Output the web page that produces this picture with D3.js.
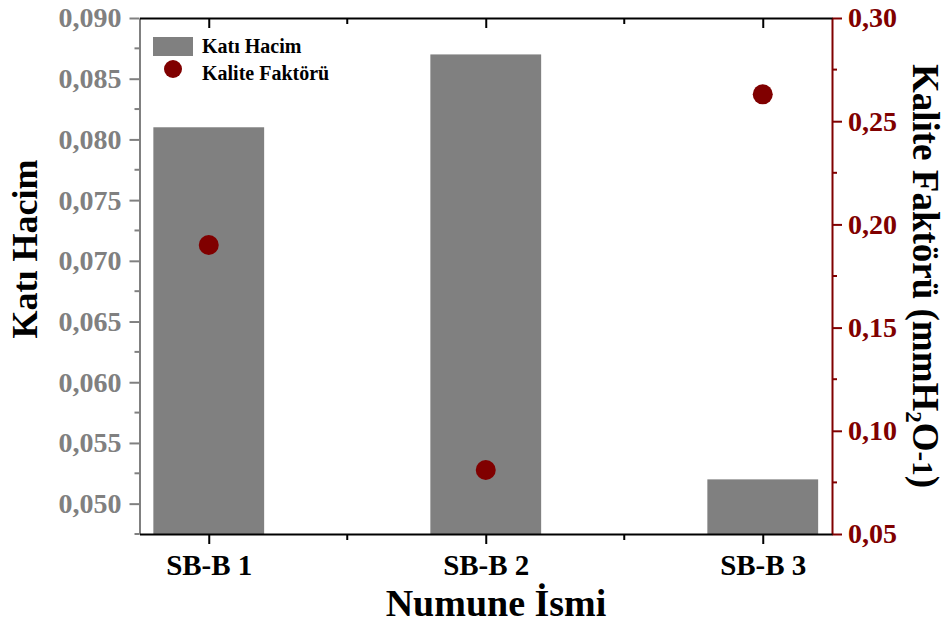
<!DOCTYPE html>
<html>
<head>
<meta charset="utf-8">
<script src="https://cdn.jsdelivr.net/npm/d3@7/dist/d3.min.js"></script>
<style>
  html, body { margin: 0; padding: 0; background: #fff; }
  svg { display: block; }
  text { font-family: "Liberation Serif", "Times New Roman", serif; font-weight: bold; }
</style>
</head>
<body>
<svg id="chart" width="947" height="625"></svg>
<script>
// Samples and measured values
const categories = ["SB-B 1", "SB-B 2", "SB-B 3"];
const katiHacim = [0.081, 0.087, 0.052];          // left axis (bars)
const kaliteFaktoru = [0.190, 0.081, 0.263];      // right axis (points)

// Axis ticks
const leftTicks = [0.050, 0.055, 0.060, 0.065, 0.070, 0.075, 0.080, 0.085, 0.090];
const leftMinorTicks = [0.0475, 0.0525, 0.0575, 0.0625, 0.0675, 0.0725, 0.0775, 0.0825, 0.0875];
const rightTicks = [0.05, 0.10, 0.15, 0.20, 0.25, 0.30];
const rightMinorTicks = [0.075, 0.125, 0.175, 0.225, 0.275];

const GRAY = "#808080";
const RED = "#800000";

const svg = d3.select("#chart");
const plot = { left: 139.5, right: 832, top: 18, bottom: 534 };

const trLocale = d3.formatLocale({ decimal: ",", thousands: ".", grouping: [3], currency: ["", ""] });
const fmt3 = trLocale.format(".3f");
const fmt2 = trLocale.format(".2f");

const x = d3.scalePoint().domain(categories).range([plot.left, plot.right]).padding(0.25);
const yL = d3.scaleLinear().domain([0.0475, 0.090]).range([plot.bottom, plot.top]);
const yR = d3.scaleLinear().domain([0.05, 0.30]).range([plot.bottom, plot.top]);
const barW = x.step() * 0.4;

// Bars
svg.append("g").selectAll("rect")
  .data(categories)
  .join("rect")
  .attr("x", (d) => x(d) - barW / 2)
  .attr("width", barW)
  .attr("y", (d, i) => yL(katiHacim[i]))
  .attr("height", (d, i) => yL.range()[0] - yL(katiHacim[i]))
  .attr("fill", GRAY);

// Minor tick positions on x (halfway between categories)
const xMinor = categories.slice(1).map((c, i) => (x(categories[i]) + x(c)) / 2);

// Left axis (gray)
const gL = svg.append("g").attr("transform", `translate(${plot.left},0)`)
  .call(d3.axisLeft(yL).tickValues(leftTicks).tickFormat(fmt3).tickSize(10).tickSizeOuter(0).tickPadding(8));
gL.selectAll("path.domain").attr("stroke", GRAY).attr("stroke-width", 2);
gL.selectAll(".tick line").attr("stroke", GRAY).attr("stroke-width", 2);
gL.selectAll(".tick text").attr("fill", GRAY).style("font-size", "28px").attr("font-family", null);
gL.append("g").selectAll("line").data(leftMinorTicks).join("line")
  .attr("x1", 0).attr("x2", -5).attr("y1", (d) => yL(d)).attr("y2", (d) => yL(d))
  .attr("stroke", GRAY).attr("stroke-width", 2);

// Right axis (dark red)
const gR = svg.append("g").attr("transform", `translate(${plot.right},0)`)
  .call(d3.axisRight(yR).tickValues(rightTicks).tickFormat(fmt2).tickSize(10).tickSizeOuter(0).tickPadding(6));
gR.selectAll("path.domain").attr("stroke", RED).attr("stroke-width", 2);
gR.selectAll(".tick line").attr("stroke", RED).attr("stroke-width", 2);
gR.selectAll(".tick text").attr("fill", RED).style("font-size", "28px").attr("font-family", null);
gR.append("g").selectAll("line").data(rightMinorTicks).join("line")
  .attr("x1", 0).attr("x2", 5).attr("y1", (d) => yR(d)).attr("y2", (d) => yR(d))
  .attr("stroke", RED).attr("stroke-width", 2);

// Bottom axis (black)
const gB = svg.append("g").attr("transform", `translate(0,${plot.bottom})`)
  .call(d3.axisBottom(x).tickSize(10).tickSizeOuter(0).tickPadding(10));
gB.selectAll("path.domain").attr("stroke", "#000").attr("stroke-width", 2);
gB.selectAll(".tick line").attr("stroke", "#000").attr("stroke-width", 2);
gB.selectAll(".tick text").attr("fill", "#000").style("font-size", "29px").attr("font-family", null);
gB.append("g").selectAll("line").data(xMinor).join("line")
  .attr("x1", (d) => d).attr("x2", (d) => d).attr("y1", 0).attr("y2", 6)
  .attr("stroke", "#000").attr("stroke-width", 2);

// Top axis (black, ticks inward, no labels)
const gT = svg.append("g").attr("transform", `translate(0,${plot.top})`)
  .call(d3.axisBottom(x).tickSize(10).tickSizeOuter(0).tickFormat(""));
gT.selectAll("path.domain").attr("stroke", "#000").attr("stroke-width", 2);
gT.selectAll(".tick line").attr("stroke", "#000").attr("stroke-width", 2);
gT.append("g").selectAll("line").data(xMinor).join("line")
  .attr("x1", (d) => d).attr("x2", (d) => d).attr("y1", 0).attr("y2", 6)
  .attr("stroke", "#000").attr("stroke-width", 2);

// Points
svg.append("g").selectAll("circle")
  .data(categories)
  .join("circle")
  .attr("cx", (d) => x(d))
  .attr("cy", (d, i) => yR(kaliteFaktoru[i]))
  .attr("r", 10)
  .attr("fill", RED);

// Axis titles
svg.append("text")
  .attr("transform", `translate(37,${(plot.top + plot.bottom) / 2 - 27}) rotate(-90)`)
  .attr("text-anchor", "middle")
  .style("font-size", "36px")
  .text("Katı Hacim");

const rt = svg.append("text")
  .attr("transform", `translate(913,${(plot.top + plot.bottom) / 2}) rotate(90)`)
  .attr("text-anchor", "middle")
  .style("font-size", "37px");
rt.append("tspan").text("Kalite Faktörü (mmH");
rt.append("tspan").attr("dy", 7).style("font-size", "23px").text("2");
rt.append("tspan").attr("dy", -7).text("O");
rt.append("tspan").style("font-size", "29px").text("-1");
rt.append("tspan").text(")");

svg.append("text")
  .attr("x", 496)
  .attr("y", 616)
  .attr("text-anchor", "middle")
  .style("font-size", "38px")
  .text("Numune İsmi");

// Legend
const legend = svg.append("g").attr("transform", "translate(153,37)");
legend.append("rect").attr("x", 0).attr("y", 0).attr("width", 40).attr("height", 19).attr("fill", GRAY);
legend.append("text").attr("x", 49).attr("y", 16).style("font-size", "20px").text("Katı Hacim");
legend.append("circle").attr("cx", 20).attr("cy", 32).attr("r", 9).attr("fill", RED);
legend.append("text").attr("x", 49).attr("y", 43).style("font-size", "20px").text("Kalite Faktörü");
</script>
</body>
</html>
